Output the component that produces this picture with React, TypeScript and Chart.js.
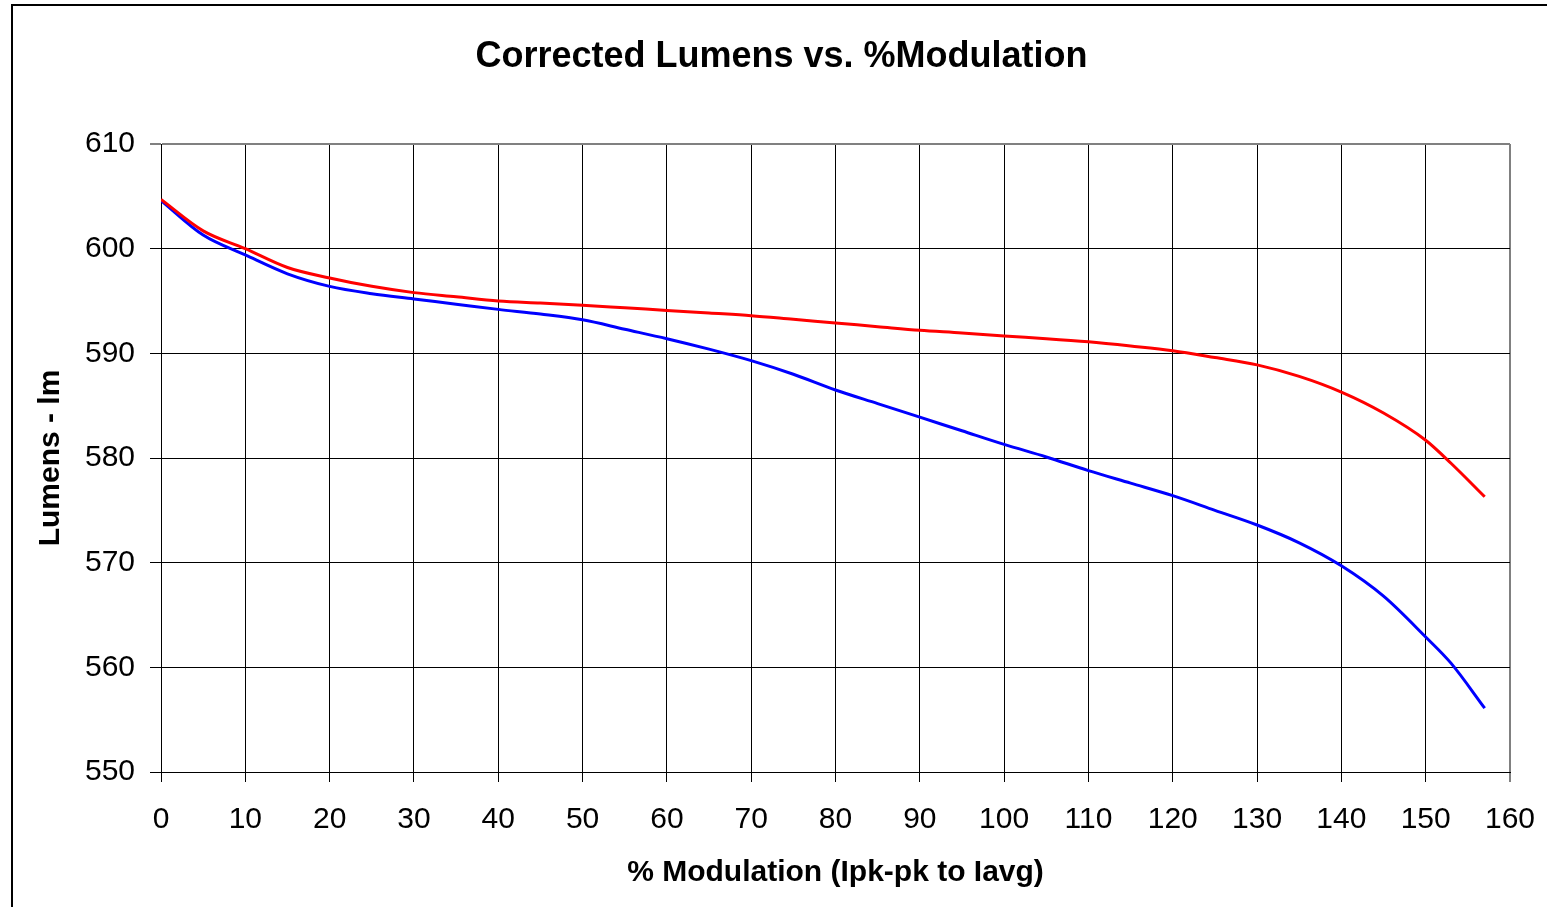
import React, { useEffect, useRef } from "react";
import { Chart, registerables } from "chart.js";

Chart.register(...registerables);

const titleText = "Corrected Lumens vs. %Modulation";
const xTitle = "% Modulation (Ipk-pk to Iavg)";
const yTitle = "Lumens - lm";

const modulation = [0, 5, 10, 15, 20, 25, 30, 35, 40, 45, 50, 55, 60, 65, 70, 75, 80, 85, 90, 95, 100, 105, 110, 115, 120, 125, 130, 135, 140, 145, 150, 153, 157];
const redLumens = [604.7, 601.7, 600.0, 598.2, 597.2, 596.4, 595.8, 595.4, 595.0, 594.8, 594.6, 594.35, 594.1, 593.85, 593.6, 593.25, 592.9, 592.55, 592.2, 591.95, 591.65, 591.4, 591.1, 590.7, 590.25, 589.6, 588.9, 587.8, 586.3, 584.3, 581.7, 579.5, 576.3];
const blueLumens = [604.6, 601.3, 599.4, 597.6, 596.4, 595.7, 595.2, 594.7, 594.2, 593.75, 593.2, 592.3, 591.4, 590.4, 589.3, 588.0, 586.5, 585.2, 583.9, 582.6, 581.3, 580.1, 578.8, 577.6, 576.4, 575.0, 573.6, 571.9, 569.7, 566.8, 562.9, 560.4, 556.1];

const xMin = 0, xMax = 160, xStep = 10;
const yMin = 550, yMax = 610, yStep = 10;

const FONT = "'Liberation Sans', Arial, sans-serif";

const framePlugin = {
  id: "frameAndTitle",
  beforeDraw(chart: any) {
    const ctx = chart.ctx;
    ctx.save();
    ctx.fillStyle = "#ffffff";
    ctx.fillRect(0, 0, chart.width, chart.height);
    ctx.strokeStyle = "#000000";
    ctx.lineWidth = 2;
    ctx.strokeRect(12, 5, chart.width + 20, chart.height + 20);
    ctx.restore();
  },
  afterDraw(chart: any) {
    const ctx = chart.ctx;
    ctx.save();
    ctx.fillStyle = "#000000";
    ctx.font = `bold 36px ${FONT}`;
    ctx.textAlign = "center";
    ctx.textBaseline = "alphabetic";
    ctx.fillText(titleText, 781.5, 67);
    ctx.restore();
  },
};

export default function App() {
  const ref = useRef<HTMLCanvasElement | null>(null);
  useEffect(() => {
    if (!ref.current) return;
    const chart = new Chart(ref.current, {
      type: "line",
      data: {
        datasets: [
          {
            label: "Red",
            data: modulation.map((m, i) => ({ x: m, y: redLumens[i] })),
            borderColor: "#ff0000",
            borderWidth: 3,
            pointRadius: 0,
            cubicInterpolationMode: "monotone",
            fill: false,
          },
          {
            label: "Blue",
            data: modulation.map((m, i) => ({ x: m, y: blueLumens[i] })),
            borderColor: "#0000ff",
            borderWidth: 3,
            pointRadius: 0,
            cubicInterpolationMode: "monotone",
            fill: false,
          },
        ],
      },
      options: {
        animation: false,
        responsive: false,
        layout: { padding: { left: 0, right: 37, top: 144, bottom: 0 } },
        plugins: {
          legend: { display: false },
          title: { display: false },
          tooltip: { enabled: false },
        },
        scales: {
          x: {
            type: "linear",
            min: xMin,
            max: xMax,
            afterFit: (s: any) => { s.height = 135; s.paddingRight = 0; s.paddingLeft = 0; },
            ticks: { stepSize: xStep, color: "#000", font: { family: FONT, size: 30 }, padding: 20, maxRotation: 0 },
            grid: {
              color: (c: any) => (c.tick && c.tick.value === xMax ? "#808080" : "#000"),
              lineWidth: (c: any) => (c.tick && c.tick.value === xMax ? 2 : 1),
              tickLength: 10,
            },
            border: { color: "#000", width: 1 },
            title: { display: true, text: xTitle, color: "#000", font: { family: FONT, size: 30, weight: "bold" }, padding: { top: 0, bottom: 16 } },
          },
          y: {
            type: "linear",
            min: yMin,
            max: yMax,
            afterFit: (s: any) => { s.width = 161; s.paddingTop = 0; s.paddingBottom = 0; },
            ticks: { stepSize: yStep, color: "#000", font: { family: FONT, size: 30 }, padding: 15 },
            grid: {
              color: (c: any) => (c.tick && c.tick.value === yMax ? "#808080" : "#000"),
              lineWidth: (c: any) => (c.tick && c.tick.value === yMax ? 2 : 1),
              tickLength: 11,
            },
            border: { color: "#000", width: 1 },
            title: { display: true, text: yTitle, color: "#000", font: { family: FONT, size: 30, weight: "bold" }, padding: { top: 33, bottom: 0 } },
          },
        },
      },
      plugins: [framePlugin],
    } as any);
    return () => chart.destroy();
  }, []);
  return (
    <div style={{ position: "absolute", left: 0, top: 0, width: 1547, height: 907 }}>
      <canvas ref={ref} width={1547} height={907} style={{ display: "block" }} />
    </div>
  );
}
